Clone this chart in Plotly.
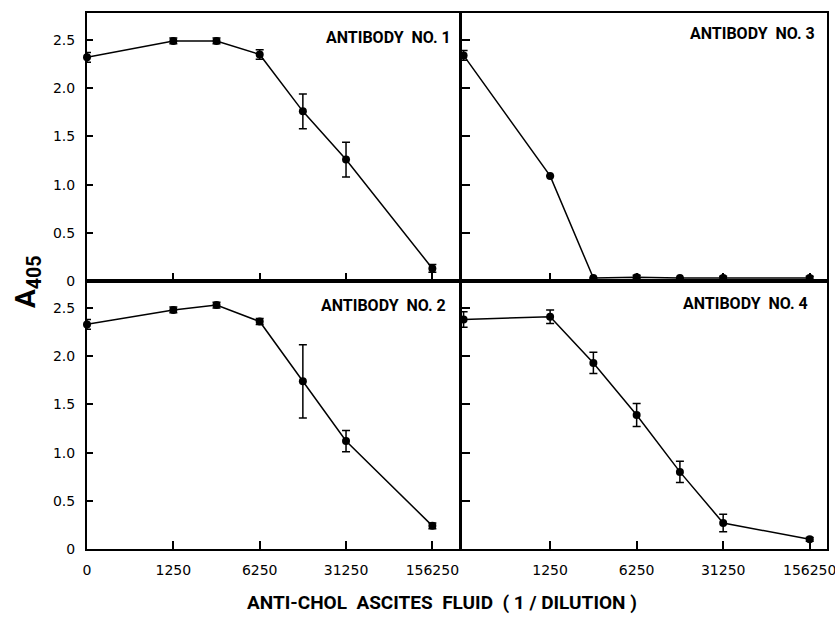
import plotly.graph_objects as go

# dilution positions (equally spaced 5-fold steps, intermediate points half-way)
x_pos = [0, 1, 1.5, 2, 2.5, 3, 4]
tick_vals_left = [0, 1, 2, 3, 4]
tick_text_left = ["0", "1250", "6250", "31250", "156250"]
tick_vals_right = [1, 2, 3, 4]
tick_text_right = ["1250", "6250", "31250", "156250"]

ab1_y = [2.32, 2.49, 2.49, 2.35, 1.76, 1.26, 0.13]
ab1_err = [0.05, 0.03, 0.03, 0.05, 0.18, 0.18, 0.04]

ab3_y = [2.34, 1.09, 0.03, 0.04, 0.03, 0.03, 0.03]
ab3_err = [0.05, 0.0, 0.0, 0.02, 0.0, 0.02, 0.02]

ab2_y = [2.33, 2.48, 2.53, 2.36, 1.74, 1.12, 0.24]
ab2_err = [0.05, 0.03, 0.03, 0.03, 0.38, 0.11, 0.03]

ab4_y = [2.38, 2.41, 1.93, 1.39, 0.80, 0.27, 0.10]
ab4_err = [0.08, 0.07, 0.11, 0.12, 0.11, 0.09, 0.02]

panel_titles = ["ANTIBODY\u00a0\u00a0NO. 1", "ANTIBODY\u00a0\u00a0NO. 3",
                "ANTIBODY\u00a0\u00a0NO. 2", "ANTIBODY\u00a0\u00a0NO. 4"]
y_ticks = [0, 0.5, 1.0, 1.5, 2.0, 2.5]
y_tick_text = ["0", "0.5", "1.0", "1.5", "2.0", "2.5"]

W, H = 835, 617
def px(x):
    return x / W
def py(y):
    return 1 - y / H

COND = "Roboto, Liberation Sans, Arial, sans-serif"
TICKF = dict(family="DejaVu Sans, sans-serif", size=14, color="black")

fig = go.Figure()
series = [(ab1_y, ab1_err, "x", "y"), (ab3_y, ab3_err, "x2", "y2"),
          (ab2_y, ab2_err, "x3", "y3"), (ab4_y, ab4_err, "x4", "y4")]
for yv, ev, xa, ya in series:
    fig.add_trace(go.Scatter(
        x=x_pos, y=yv, mode="lines+markers", xaxis=xa, yaxis=ya,
        line=dict(color="black", width=1.5),
        marker=dict(color="black", size=8),
        error_y=dict(type="data", array=ev, visible=True, color="black",
                     thickness=1.5, width=4),
        showlegend=False, cliponaxis=False))

left_dom = [px(87), px(460)]
right_dom = [px(461), px(827)]
top_dom = [py(281), py(13)]
bot_dom = [py(549), py(281)]

xcommon = dict(showline=True, linecolor="black", linewidth=2, mirror=True,
               ticks="inside", ticklen=8, tickwidth=1.5, tickcolor="black",
               showgrid=False, zeroline=False, tickfont=TICKF,
               automargin=False, ticklabelstandoff=7, ticklabeloverflow="allow")
ycommon = dict(showline=True, linecolor="black", linewidth=2, mirror=True,
               tickvals=y_ticks, ticktext=y_tick_text, showgrid=False,
               zeroline=False, range=[0, 2.78], tickfont=TICKF,
               tickcolor="black", tickwidth=1.5, ticks="inside", automargin=False)

fig.update_layout(
    width=W, height=H, margin=dict(l=0, r=0, t=0, b=0, autoexpand=False),
    plot_bgcolor="white", paper_bgcolor="white",
    xaxis=dict(domain=left_dom, range=[0, 4.32], anchor="y", showticklabels=False,
               tickvals=tick_vals_left, ticktext=tick_text_left, **xcommon),
    yaxis=dict(domain=top_dom, anchor="x", ticklen=6, ticklabelstandoff=7, **ycommon),
    xaxis2=dict(domain=right_dom, range=[-0.03, 4.2], anchor="y2", showticklabels=False,
                tickvals=tick_vals_right, ticktext=tick_text_right, **xcommon),
    yaxis2=dict(domain=top_dom, anchor="x2", ticklen=9,
                showticklabels=False, **ycommon),
    xaxis3=dict(domain=left_dom, range=[0, 4.32], anchor="y3", showticklabels=True,
                tickvals=tick_vals_left, ticktext=tick_text_left, **xcommon),
    yaxis3=dict(domain=bot_dom, anchor="x3", ticklen=6, ticklabelstandoff=7, **ycommon),
    xaxis4=dict(domain=right_dom, range=[-0.03, 4.2], anchor="y4", showticklabels=True,
                tickvals=tick_vals_right, ticktext=tick_text_right, **xcommon),
    yaxis4=dict(domain=bot_dom, anchor="x4", ticklen=9,
                showticklabels=False, **ycommon),
)

title_pos = [(px(453), py(37)), (px(817), py(33)), (px(448), py(305)), (px(810), py(303))]
for t, (xx, yy) in zip(panel_titles, title_pos):
    fig.add_annotation(text="<b>" + t + "</b>", x=xx, y=yy, xref="paper", yref="paper",
                       xanchor="right", yanchor="middle", showarrow=False,
                       font=dict(family=COND, size=16, color="black"))

fig.add_annotation(text="<b>A<sub>405</sub></b>", x=px(27), y=py(282), xref="paper",
                   yref="paper", textangle=-90, showarrow=False,
                   xanchor="center", yanchor="middle",
                   font=dict(family=COND, size=28, color="black"))
fig.add_annotation(text="<b>ANTI-CHOL\u00a0\u00a0ASCITES\u00a0\u00a0FLUID\u00a0\u00a0(\u00a01\u00a0/\u00a0DILUTION\u00a0)</b>",
                   x=px(442), y=py(602), xref="paper", yref="paper",
                   xanchor="center", yanchor="middle",
                   showarrow=False, font=dict(family=COND, size=19, color="black"))

fig.write_html("out.html", config={"displayModeBar": False},
               post_script="document.body.style.margin='0';")
